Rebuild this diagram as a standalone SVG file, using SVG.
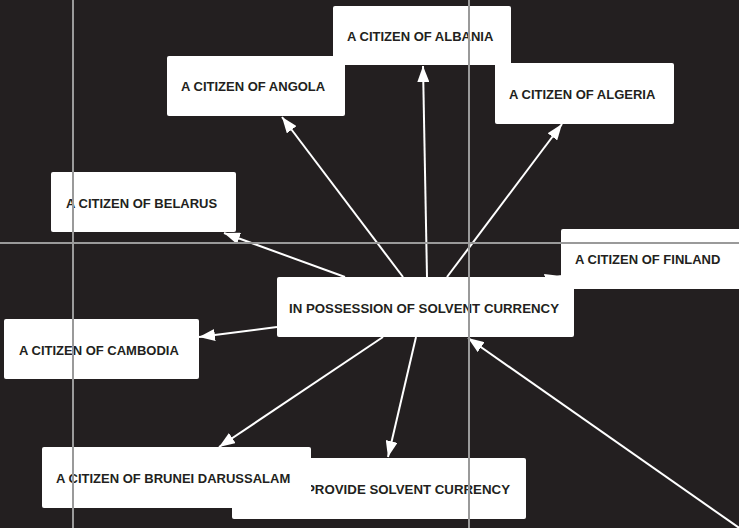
<svg xmlns="http://www.w3.org/2000/svg" width="739" height="528" viewBox="0 0 739 528">
<style>
.box{fill:#ffffff;}
.lbl{font-family:"Liberation Sans",Arial,sans-serif;font-weight:bold;font-size:13px;fill:#231f20;}
.edge{stroke:#ffffff;stroke-width:2;fill:none;marker-end:url(#ah);}
.guide{stroke:#9a9a9a;stroke-width:2;}
</style>
<defs>
<marker id="ah" markerUnits="userSpaceOnUse" markerWidth="16" markerHeight="12" refX="16" refY="6" orient="auto">
<path d="M0,0 L16,6 L0,12 z" fill="#ffffff"/>
</marker>
</defs>
<rect width="739" height="528" fill="#231f20"/>
<g id="connectors">
<line class="edge" x1="427" y1="277" x2="423" y2="66"/>
<line class="edge" x1="403" y1="277" x2="282" y2="117"/>
<line class="edge" x1="447" y1="277" x2="562" y2="124"/>
<line class="edge" x1="345" y1="277" x2="224" y2="233"/>
<line class="edge" x1="520" y1="286" x2="561" y2="276"/>
<line class="edge" x1="277" y1="327" x2="199" y2="337"/>
<line class="edge" x1="383" y1="337" x2="219" y2="447"/>
<line class="edge" x1="416" y1="337" x2="388" y2="457"/>
<line class="edge" x1="745" y1="532" x2="468" y2="338"/>
</g>
<g id="angola"><rect class="box" x="167" y="56" width="178" height="60" rx="2"/><text class="lbl" x="181" y="91">A CITIZEN OF ANGOLA</text></g>
<g id="albania"><rect class="box" x="333" y="6" width="178" height="59" rx="2"/><text class="lbl" x="347" y="41">A CITIZEN OF ALBANIA</text></g>
<g id="algeria"><rect class="box" x="495" y="63" width="179" height="61" rx="2"/><text class="lbl" x="509" y="99">A CITIZEN OF ALGERIA</text></g>
<g id="belarus"><rect class="box" x="51" y="172" width="185" height="60" rx="2"/><text class="lbl" x="66" y="207.5">A CITIZEN OF BELARUS</text></g>
<g id="finland"><rect class="box" x="561" y="229" width="182" height="60" rx="2"/><text class="lbl" x="575" y="264">A CITIZEN OF FINLAND</text></g>
<g id="center"><rect class="box" x="277" y="277" width="297" height="60" rx="2"/><text class="lbl" x="289" y="312.5" textLength="270" lengthAdjust="spacingAndGlyphs">IN POSSESSION OF SOLVENT CURRENCY</text></g>
<g id="cambodia"><rect class="box" x="4" y="319" width="195" height="60" rx="2"/><text class="lbl" x="19" y="355">A CITIZEN OF CAMBODIA</text></g>
<g id="provide"><rect class="box" x="232" y="458" width="294" height="61" rx="2"/><text class="lbl" x="306" y="494" textLength="204" lengthAdjust="spacingAndGlyphs">PROVIDE SOLVENT CURRENCY</text></g>
<g id="brunei"><rect class="box" x="42" y="447" width="269" height="61" rx="2"/><text class="lbl" x="56" y="483">A CITIZEN OF BRUNEI DARUSSALAM</text></g>
<g id="guides">
<line class="guide" x1="73" y1="0" x2="73" y2="528"/>
<line class="guide" x1="469" y1="0" x2="469" y2="528"/>
<line class="guide" x1="0" y1="243" x2="739" y2="243"/>
</g>
</svg>
